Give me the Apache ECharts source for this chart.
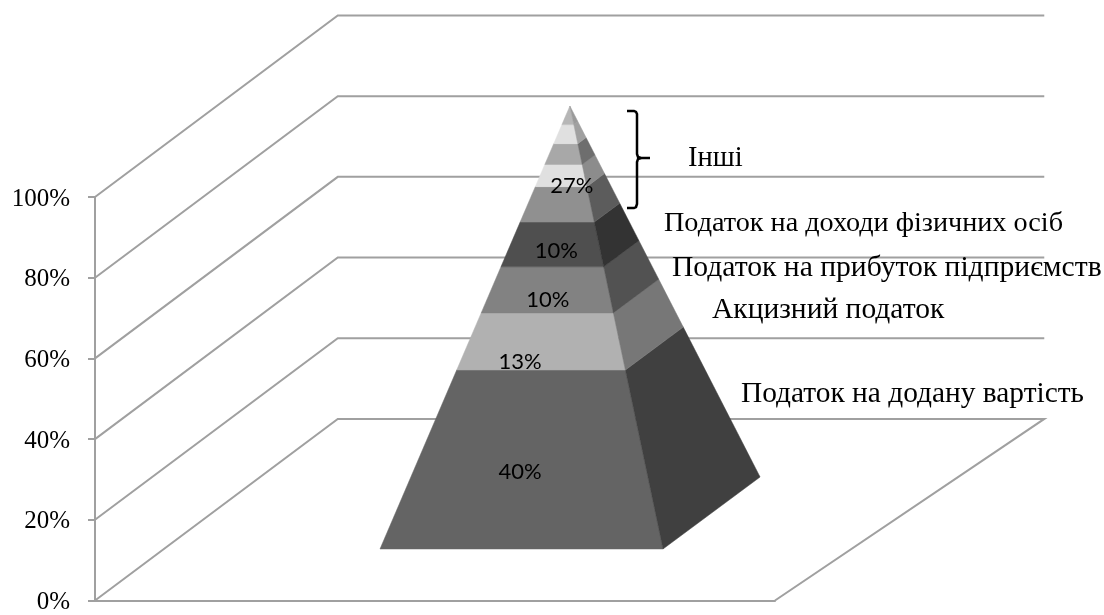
<!DOCTYPE html>
<html>
<head>
<meta charset="utf-8">
<style>
  html, body { margin: 0; padding: 0; background: #fff; }
  #chart { width: 1104px; height: 615px; }
</style>
<script src="https://cdn.jsdelivr.net/npm/echarts@6/dist/echarts.min.js"></script>
</head>
<body>
<div id="chart"></div>
<script>
// data
const taxNames = ['Податок на додану вартість', 'Акцизний податок', 'Податок на прибуток підприємств', 'Податок на доходи фізичних осіб', 'Інші']
const sliceValues = [40.4, 12.9, 10.4, 10.1, 8, 5, 4.7, 4.3, 4.2]
const labelTexts = ['40%', '13%', '10%', '10%', '27%']
const wallTicks = [0, 20, 40, 60, 80, 100]

// greys, bottom slice first
const frontColors = ['#646464', '#b1b1b1', '#828282', '#4f4f4f', '#909090', '#e0e0e0', '#a8a8a8', '#e0e0e0', '#b6b6b6']
const sideColors = ['#404040', '#777777', '#525252', '#333333', '#5c5c5c', '#8c8c8c', '#6e6e6e', '#a0a0a0', '#9a9a9a']

// where the label sits in each slice, in pyramid height units (0 = base, 100 = apex)
const labelHeights = [17.4, 42.2, 56.2, 67.3, 82]
const labelXs = [49.5, 49.5, 59.3, 62.3, 67.8]

// 3d box projection, in units of the wall grid
const depthX = 35.7
const depthY = 45
const backX = 139.6

// pyramid corners, in units of the pyramid grid
const baseLeft = [0, 0]
const baseRight = [100, 0]
const baseBack = [134.3, 16.25]
const apex = [67.1, 100]

// cumulative start of each slice
let sum = 0
const sliceStarts = sliceValues.map(v => { const s = sum; sum += v; return s })

const onEdge = (corner, h) => [
  corner[0] + (apex[0] - corner[0]) * h / 100,
  corner[1] + (apex[1] - corner[1]) * h / 100,
]

const polygon = (api, pts, fill) => ({
  type: 'polygon',
  shape: { points: pts.map(p => api.coord(p)) },
  style: { fill: fill, stroke: fill, lineWidth: 0.5 },
})

const serif = '"Liberation Serif", serif'
const note = (text, x, y, size) => ({
  type: 'text',
  left: x,
  top: y - size / 2,
  z: 20,
  style: { text: text, fontFamily: serif, fontSize: size, fill: '#000' },
})

// curly brace next to "Інші"
const braceLine = pts => ({
  type: 'polyline',
  z: 20,
  shape: { points: pts },
  style: { fill: 'none', stroke: '#000', lineWidth: 2.5 },
})

const option = {
  animation: false,
  backgroundColor: '#fff',
  grid: [
    { left: 95, right: 329, top: 197, bottom: 13 }, // walls
    { left: 380, right: 441, top: 106, bottom: 66 }, // pyramid
  ],
  xAxis: [
    {
      gridIndex: 0,
      type: 'value',
      min: 0,
      max: 100,
      axisLine: { show: true, lineStyle: { color: '#a0a0a0', width: 2 } },
      axisTick: { show: false },
      axisLabel: { show: false },
      splitLine: { show: false },
    },
    { gridIndex: 1, type: 'value', min: 0, max: 100, show: false },
  ],
  yAxis: [
    {
      gridIndex: 0,
      type: 'value',
      min: 0,
      max: 100,
      interval: 20,
      axisLine: { show: true, lineStyle: { color: '#a0a0a0', width: 2 } },
      axisTick: { show: true, length: 7, lineStyle: { color: '#a0a0a0', width: 2 } },
      axisLabel: {
        formatter: '{v|{value}%}',
        margin: 25,
        rich: {
          v: { fontFamily: serif, fontSize: 25, color: '#000', padding: [4, 0, 0, 0] },
        },
      },
      splitLine: { show: false },
    },
    { gridIndex: 1, type: 'value', min: 0, max: 100, show: false },
  ],
  series: [
    {
      // side wall, back wall and floor lines
      type: 'custom',
      xAxisIndex: 0,
      yAxisIndex: 0,
      coordinateSystem: 'cartesian2d',
      data: wallTicks.map(v => [v]),
      silent: true,
      z: 1,
      renderItem: (params, api) => {
        const v = api.value(0)
        const pts = [[0, v], [depthX, v + depthY], [backX, v + depthY]]
        if (v === 0) pts.push([100, 0])
        return {
          type: 'polyline',
          shape: { points: pts.map(p => api.coord(p)) },
          style: { stroke: '#a0a0a0', lineWidth: 2, fill: 'none' },
        }
      },
    },
    {
      // pyramid slices
      type: 'custom',
      xAxisIndex: 1,
      yAxisIndex: 1,
      coordinateSystem: 'cartesian2d',
      data: sliceValues.map((v, i) => [sliceStarts[i], v]),
      silent: true,
      z: 5,
      renderItem: (params, api) => {
        const from = api.value(0)
        const to = from + api.value(1)
        const i = params.dataIndex
        return {
          type: 'group',
          children: [
            polygon(api, [onEdge(baseLeft, from), onEdge(baseRight, from), onEdge(baseRight, to), onEdge(baseLeft, to)], frontColors[i]),
            polygon(api, [onEdge(baseRight, from), onEdge(baseBack, from), onEdge(baseBack, to), onEdge(baseRight, to)], sideColors[i]),
          ],
        }
      },
    },
    {
      // percent labels on the front face
      type: 'custom',
      xAxisIndex: 1,
      yAxisIndex: 1,
      coordinateSystem: 'cartesian2d',
      data: labelTexts.map((t, i) => [labelXs[i], labelHeights[i]]),
      silent: true,
      z: 10,
      renderItem: (params, api) => {
        const p = api.coord([api.value(0), api.value(1)])
        return {
          type: 'text',
          x: p[0],
          y: p[1],
          style: {
            text: labelTexts[params.dataIndex],
            fontFamily: 'Lato, sans-serif',
            fontSize: 22,
            fill: '#000',
            align: 'center',
            verticalAlign: 'middle',
          },
        }
      },
    },
  ],
  graphic: [
    note(taxNames[4], 688, 158, 28.5),
    note(taxNames[3], 664, 224, 28.2),
    note(taxNames[2], 672, 268.5, 29.6),
    note(taxNames[1], 712, 310, 29.5),
    note(taxNames[0], 741, 394, 29.4),
    braceLine([[627, 111], [634, 111], [636, 112], [637, 114], [637, 154], [638, 157], [641, 158], [650, 158]]),
    braceLine([[641, 158], [638, 159], [637, 162], [637, 204], [636, 207], [634, 208], [627, 208]]),
  ],
}

const myChart = echarts.init(document.getElementById('chart'), null, { renderer: 'canvas' })
myChart.setOption(option)
</script>
</body>
</html>
